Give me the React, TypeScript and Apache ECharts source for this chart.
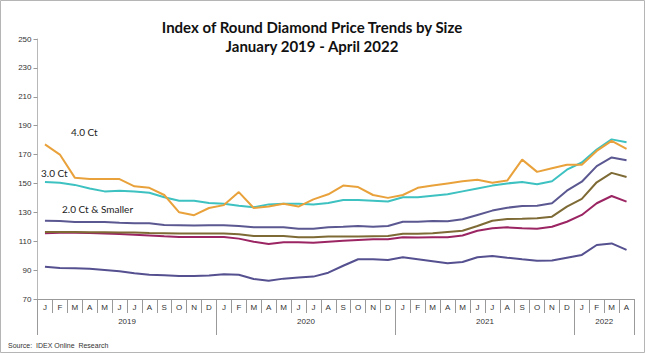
import React, { useEffect, useRef } from "react";
import * as echarts from "echarts";

const monthLetters = ["J", "F", "M", "A", "M", "J", "J", "A", "S", "O", "N", "D"];
const months: string[] = [
  ...monthLetters,
  ...monthLetters,
  ...monthLetters,
  "J", "F", "M", "A",
];
const years = ["2019", "2020", "2021", "2022"];
const yearStart = [0, 12, 24, 36];
const yearLength = [12, 12, 12, 4];

const ct40 = [177, 170, 154, 153, 153, 153, 148, 147, 142, 130, 128, 133, 135, 144, 133, 134, 136, 134, 139, 142.5, 148.5, 147.5, 142, 140, 142, 147, 148.5, 150, 151.5, 152.5, 150.5, 152, 166.5, 158, 160.5, 163, 163, 172.5, 179.5, 174];
const ct30 = [151, 150.5, 149, 146.5, 144.5, 145, 144.5, 143.5, 140.5, 138, 138, 136.5, 136, 134.5, 133.5, 135.5, 136, 136, 135.5, 136.5, 138.5, 138.5, 138, 137.5, 140.5, 140.5, 141.5, 142.5, 144.5, 146.5, 148.5, 150, 151, 149.5, 151.5, 159.5, 164.5, 173.5, 180.5, 178.5];
const ct20 = [124.2, 124, 123.3, 123.3, 123.3, 122.8, 122.4, 122.4, 121.2, 121, 120.8, 121, 121, 120.6, 119.6, 119.6, 119.6, 118.7, 118.7, 119.6, 120, 120.5, 120, 120.5, 123.5, 123.5, 124, 123.8, 125.2, 128.2, 131.2, 133.2, 134.4, 134.6, 136.3, 145, 151.2, 162, 168, 166];
const seriesOlive = [116.4, 116.4, 116.4, 116.2, 116.2, 116, 116, 115.7, 115.5, 115.3, 115.3, 115.3, 115.3, 114.9, 113.6, 113.6, 113.6, 112.7, 112.7, 113.2, 113.2, 113.2, 113.4, 113.6, 115.2, 115.2, 115.5, 116.4, 117.3, 120.5, 124.2, 125.4, 125.6, 125.9, 127, 134, 139.3, 150.8, 157.3, 154.5];
const seriesMaroon = [115.6, 115.8, 115.8, 115.7, 115.3, 115, 114.5, 114, 113.4, 113, 113, 113, 113, 111.8, 109.7, 108, 109.3, 109.3, 109, 109.7, 110.4, 110.9, 111.3, 111.3, 112.7, 112.5, 112.7, 112.7, 114, 117.3, 119, 119.6, 119, 118.7, 120, 123.5, 128.2, 136.3, 141.3, 137.4];
const seriesLow = [92.4, 91.5, 91.3, 91, 90.1, 89.2, 87.8, 86.8, 86.4, 85.9, 86, 86.2, 87.1, 86.8, 83.9, 82.7, 84.1, 84.8, 85.5, 88.2, 93, 97.5, 97.5, 97, 98.9, 97.5, 96.1, 94.7, 95.6, 98.9, 99.8, 98.6, 97.5, 96.5, 96.6, 98.6, 100.5, 107.4, 108.5, 104];

const yMin = 70;
const yMax = 250;
const yStep = 20;

export default function App() {
  const ref = useRef<HTMLDivElement>(null);

  useEffect(() => {
    if (!ref.current) return;
    const chart = echarts.init(ref.current, null, { renderer: "svg" });

    const labelIdx = yearStart.map((s, i) => s + yearLength[i] / 2 - 1);
    const gray = "#9a9a9a";
    const labelFont = "'Liberation Sans Narrow', 'Arial Narrow', 'Liberation Sans', sans-serif";

    const mk = (name: string, data: number[], color: string) => ({
      name,
      type: "line",
      data,
      xAxisIndex: 0,
      yAxisIndex: 0,
      symbol: "none",
      lineStyle: { width: 2, color },
      itemStyle: { color },
    });

    chart.setOption({
      animation: false,
      backgroundColor: "#ffffff",
      grid: { left: 37.5, right: 11, top: 39, bottom: 54, containLabel: false },
      xAxis: [
        {
          type: "category",
          data: months,
          boundaryGap: true,
          position: "bottom",
          axisLine: { show: true, lineStyle: { color: gray, width: 1 } },
          axisTick: { show: true, interval: 0, length: 14, lineStyle: { color: gray } },
          axisLabel: { interval: 0, fontSize: 8, color: "#333", margin: 4, fontFamily: labelFont },
          splitLine: { show: false },
        },
        {
          type: "category",
          data: months,
          boundaryGap: true,
          position: "bottom",
          offset: 0,
          axisLine: { show: false },
          axisTick: {
            show: true,
            interval: (i: number) => yearStart.includes(i),
            length: 36,
            lineStyle: { color: gray },
          },
          axisLabel: {
            interval: (i: number) => labelIdx.includes(i),
            margin: 18,
            fontSize: 8,
            color: "#333",
            fontFamily: labelFont,
            formatter: (_v: string, i: number) => {
              const k = labelIdx.indexOf(i);
              return k >= 0 ? `{y|${years[k]}}` : "";
            },
            rich: { y: { padding: [0, 0, 0, 15], fontSize: 8, color: "#333", fontFamily: labelFont } },
          },
          splitLine: { show: false },
        },
      ],
      yAxis: [
        {
          type: "value",
          min: yMin,
          max: yMax,
          position: "left",
          axisLine: { show: true, lineStyle: { color: "#b8b8b8" } },
          axisTick: { show: false },
          axisLabel: { show: false },
          splitLine: { show: false },
        },
        {
          type: "value",
          min: 0,
          max: yMax - yMin,
          interval: yStep,
          position: "left",
          offset: 0,
          axisLine: { show: false },
          axisTick: { show: true, length: 4, lineStyle: { color: gray } },
          axisLabel: {
            fontSize: 8,
            color: "#333",
            margin: 6,
            fontFamily: labelFont,
            formatter: (v: number) => String(v + yMin),
          },
          splitLine: { show: false },
        },
      ],
      series: [
        mk("Series low", seriesLow, "#55508f"),
        mk("Series maroon", seriesMaroon, "#9b2563"),
        mk("Series olive", seriesOlive, "#7d6a35"),
        mk("2.0 Ct & Smaller", ct20, "#5b5891"),
        mk("3.0 Ct", ct30, "#3ec1c1"),
        mk("4.0 Ct", ct40, "#e9a23b"),
      ],
      graphic: [
        {
          type: "rect",
          shape: { x: 0.5, y: 0.5, width: 644, height: 352 },
          style: { fill: "none", stroke: "#b5b5b5", lineWidth: 1 },
          silent: true,
        },
        {
          type: "text",
          x: 312,
          y: 17,
          style: {
            text: "Index of Round Diamond Price Trends by Size\nJanuary 2019 - April 2022",
            textAlign: "center",
            textVerticalAlign: "top",
            font: "bold 15px Lato, 'Open Sans', sans-serif",
            lineHeight: 19,
            fill: "#111",
          },
        },
        {
          type: "text",
          x: 71,
          y: 132,
          style: { text: "4.0 Ct", textVerticalAlign: "middle", font: "10px Lato, sans-serif", fill: "#222" },
        },
        {
          type: "text",
          x: 41,
          y: 173,
          style: { text: "3.0 Ct", textVerticalAlign: "middle", font: "10px Lato, sans-serif", fill: "#222" },
        },
        {
          type: "text",
          x: 62,
          y: 209,
          style: { text: "2.0 Ct & Smaller", textVerticalAlign: "middle", font: "10px Lato, sans-serif", fill: "#222" },
        },
        {
          type: "text",
          x: 8,
          y: 345,
          style: { text: "Source:  IDEX Online  Research", textVerticalAlign: "middle", font: "7px " + labelFont, fill: "#333" },
        },
      ],
    });

    return () => chart.dispose();
  }, []);

  return (
    <div
      ref={ref}
      style={{ position: "fixed", left: 0, top: 0, width: 645, height: 353, background: "#fff" }}
    />
  );
}
